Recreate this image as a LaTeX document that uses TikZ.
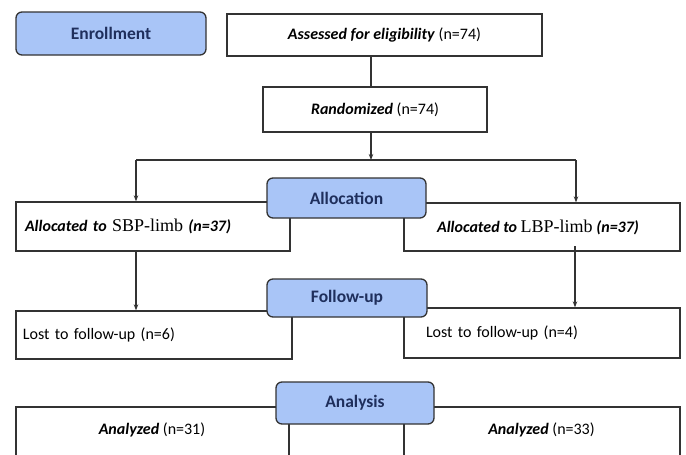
\documentclass[tikz,border=0pt]{standalone}
\usepackage{fontspec}
\setmainfont{Carlito}
\newfontfamily\timesf{Liberation Serif}
\usetikzlibrary{arrows.meta}
\definecolor{hdrfill}{HTML}{A9C5F7}
\definecolor{hdrtext}{HTML}{1F2F5C}
\definecolor{edgec}{HTML}{333333}
\begin{document}
\begin{tikzpicture}[x=1pt,y=-1pt,
 box/.style={draw=edgec,line width=1.3pt,fill=white,inner sep=0pt,font=\fontsize{16}{19}\selectfont},
 hdr/.style={draw=edgec,line width=1.3pt,fill=hdrfill,rounded corners=6pt,text=hdrtext,font=\fontsize{17.5}{20}\selectfont\bfseries,inner sep=0pt},
 txt/.style={inner sep=0pt,font=\fontsize{16}{19}\selectfont},
 arr/.style={draw=edgec,line width=1.2pt,-{Stealth[length=6pt,width=4.5pt]}},
 ln/.style={draw=edgec,line width=1.2pt}]
\useasboundingbox (0,0) rectangle (686,455);
\clip (0,0) rectangle (686,455);
\fill[white] (0,0) rectangle (686,455);

% plain boxes
\node[box,minimum width=315pt,minimum height=42pt] (assess) at (384.5,35) {\raisebox{-1pt}{\textbf{\textit{Assessed for eligibility}} (n=74)}};
\node[box,minimum width=224pt,minimum height=45pt] (rand) at (375,109.5) {\textbf{\textit{Randomized}} (n=74)};
\node[box,minimum width=274pt,minimum height=49pt,text width=256pt,align=left] (allocL) at (153,226.5)
  {\raisebox{3pt}{\textbf{\textit{Allocated to}} {\timesf\fontsize{18}{20}\selectfont SBP-limb} \textbf{\textit{(n=37)}}}};
\node[box,minimum width=276pt,minimum height=48pt] (allocR) at (542,227)
  {\hspace*{-8pt}\textbf{\textit{Allocated to}} {\timesf\fontsize{18}{20}\selectfont LBP-limb} \textbf{\textit{(n=37)}}};
\node[box,minimum width=276pt,minimum height=48pt,text width=262pt,align=left] (lostL) at (154,335)
  {\raisebox{2pt}{Lost to follow-up (n=6)}};
\node[box,minimum width=276pt,minimum height=50pt,text width=232pt,align=left] (lostR) at (542,333)
  {\raisebox{1pt}{Lost to follow-up (n=4)}};
\node[box,minimum width=273pt,minimum height=68pt] (anaL) at (152.5,441) {};
\node[txt] (anaLt) at (152,430) {\textbf{\textit{Analyzed}} (n=31)};
\node[box,minimum width=276pt,minimum height=68pt] (anaR) at (542,441) {};
\node[txt] (anaRt) at (541.5,430) {\textbf{\textit{Analyzed}} (n=33)};

% connectors
\coordinate (split) at (371,160);
\coordinate (splitL) at (136,160);
\coordinate (splitR) at (576,160);
\draw[ln] (assess.south -| split) -- (rand.north -| split);
\draw[arr] (rand.south -| split) -- (split);
\draw[ln] (splitL) -- (splitR);
\draw[arr] (splitL) -- (allocL.north -| splitL);
\draw[arr] (splitR) -- (allocR.north -| splitR);
\draw[arr] (allocL.south -| splitL) -- (lostL.north -| splitL);
\coordinate (rdown) at (575,246);
\draw[arr] (rdown) -- (lostR.north -| rdown);

% headers
\node[hdr,minimum width=190pt,minimum height=43pt] (enroll) at (111,33.5) {Enrollment};
\node[hdr,minimum width=159pt,minimum height=40pt] (alloc) at (346.5,198) {Allocation};
\node[hdr,minimum width=160pt,minimum height=38pt] (follow) at (347,298) {Follow-up};
\node[hdr,minimum width=158pt,minimum height=42pt] (analysis) at (355,403) {Analysis};
\end{tikzpicture}
\end{document}
